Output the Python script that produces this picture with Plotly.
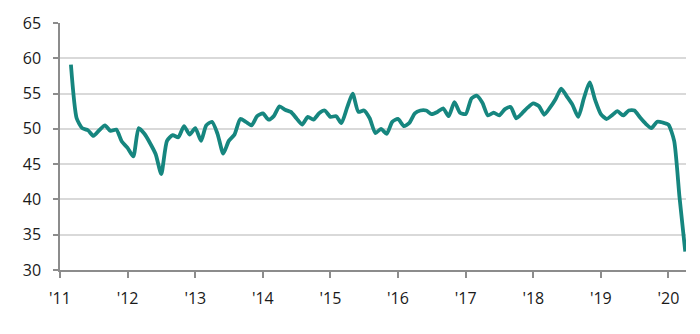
import pandas as pd
import plotly.graph_objects as go

# Monthly index values, Mar 2011 .. Apr 2020
start_month = "2011-03-01"
values = [
    59.1, 51.5, 50.1, 49.8, 49.0, 49.8, 50.5, 49.7, 49.9, 48.2,          # 2011 Mar-Dec
    47.3, 46.1, 50.1, 49.3, 48.0, 46.4, 43.6, 48.3, 49.1, 48.8, 50.4, 49.2,  # 2012
    50.1, 48.3, 50.5, 51.0, 49.3, 46.5, 48.3, 49.2, 51.4, 51.0, 50.5, 51.8,  # 2013
    52.2, 51.3, 51.8, 53.2, 52.7, 52.4, 51.5, 50.6, 51.7, 51.3, 52.2, 52.6,  # 2014
    51.7, 51.8, 50.8, 53.0, 55.0, 52.4, 52.6, 51.5, 49.4, 50.0, 49.3, 51.0,  # 2015
    51.4, 50.4, 50.8, 52.2, 52.6, 52.6, 52.1, 52.4, 52.9, 51.8, 53.8, 52.3,  # 2016
    52.1, 54.3, 54.7, 53.7, 51.9, 52.3, 51.9, 52.8, 53.1, 51.5, 52.2, 53.0,  # 2017
    53.6, 53.2, 52.0, 53.0, 54.2, 55.7, 54.6, 53.4, 51.7, 54.3, 56.6, 54.1,  # 2018
    52.1, 51.4, 51.9, 52.5, 51.9, 52.6, 52.6, 51.6, 50.7, 50.1, 51.0, 50.9,  # 2019
    50.6, 48.3, 40.3, 32.6,                                                  # 2020 Jan-Apr
]
dates = pd.date_range(start_month, periods=len(values), freq="MS")

year_ticks = [f"{y}-01-01" for y in range(2011, 2021)]
year_labels = ["'11", "'12", "'13", "'14", "'15", "'16", "'17", "'18", "'19", "'20"]
y_ticks = [30, 35, 40, 45, 50, 55, 60, 65]

fig = go.Figure()
fig.add_trace(go.Scatter(
    x=dates, y=values, mode="lines",
    line=dict(color="#16867f", width=3.8, shape="spline", smoothing=0.6),
    hoverinfo="x+y", showlegend=False,
))

fig.update_layout(
    width=700, height=334,
    margin=dict(l=60, r=14, t=18, b=64),
    paper_bgcolor="white", plot_bgcolor="white",
    font=dict(family="Open Sans, Liberation Sans, Arial, sans-serif", size=16, color="#1a1a1a"),
)
fig.update_xaxes(
    type="date",
    range=["2011-01-01", "2020-04-05"],
    tickvals=year_ticks, ticktext=year_labels,
    showgrid=False, zeroline=False,
    showline=True, linecolor="#8c8c8c", linewidth=1.5,
    ticks="outside", ticklen=6, tickwidth=1.5, tickcolor="#8c8c8c",
    ticklabelstandoff=7,
    tickfont=dict(size=16, color="#1a1a1a"),
)
fig.update_yaxes(
    range=[30, 65],
    tickvals=y_ticks,
    showgrid=True, gridcolor="#d9d9d9", gridwidth=1.8,
    zeroline=False,
    showline=True, linecolor="#8c8c8c", linewidth=1.5,
    ticks="outside", ticklen=5, tickwidth=1.5, tickcolor="#8c8c8c",
    ticklabelstandoff=9,
    tickfont=dict(size=16, color="#1a1a1a"),
)

fig.write_html("out.html")
